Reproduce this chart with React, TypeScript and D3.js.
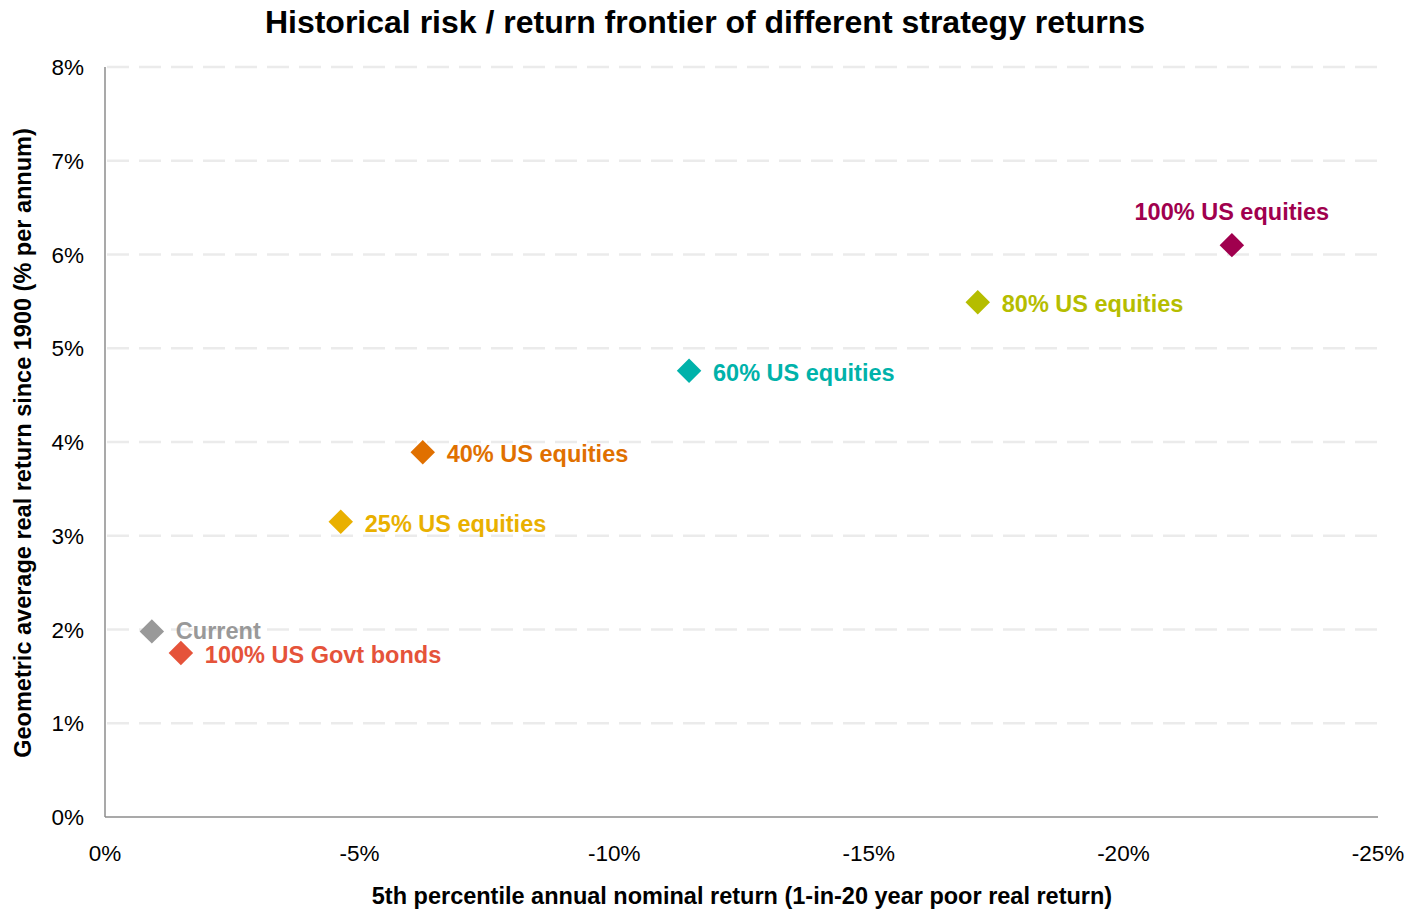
import React from "react";
import * as d3 from "d3";

const labels = ["Current", "100% US Govt bonds", "25% US equities", "40% US equities", "60% US equities", "80% US equities", "100% US equities"];
const xValues = [-0.92, -1.49, -4.63, -6.24, -11.47, -17.14, -22.13];
const yValues = [1.98, 1.75, 3.15, 3.89, 4.76, 5.49, 6.10];
const colors = ["#999999", "#E5533A", "#E9B000", "#E07000", "#00B2AA", "#B5BD00", "#A0004E"];
const labelPos = ["right", "right", "right", "right", "right", "right", "above"];
const xTicks = [0, -5, -10, -15, -20, -25];
const yTicks = [0, 1, 2, 3, 4, 5, 6, 7, 8];

const W = 1416, H = 912;
const left = 105, right = 1378, top = 67, bottom = 817;

export default function App() {
  const x = d3.scaleLinear().domain([0, -25]).range([left, right]);
  const y = d3.scaleLinear().domain([0, 8]).range([bottom, top]);
  const font = "'Liberation Sans', Arial, sans-serif";
  const diamond = d3.symbol().type(d3.symbolSquare).size(300)();
  return (
    <svg width={W} height={H} style={{ position: "absolute", left: 0, top: 0 }} fontFamily={font}>
      <rect width={W} height={H} fill="#fff" />
      <text x={705} y={33} textAnchor="middle" fontSize={32} fontWeight="bold" fill="#000">
        Historical risk / return frontier of different strategy returns
      </text>
      {yTicks.filter(t => t > 0).map(t => (
        <line key={t} x1={left + 2} x2={right + 2} y1={y(t)} y2={y(t)} stroke="#ebebeb" strokeWidth={2.5} strokeDasharray="22 10" />
      ))}
      <line x1={left} x2={left} y1={top} y2={bottom} stroke="#8c8c8c" strokeWidth={1.5} />
      <line x1={left} x2={right} y1={bottom} y2={bottom} stroke="#8c8c8c" strokeWidth={1.5} />
      {yTicks.map(t => (
        <text key={t} x={84} y={y(t) + 8} textAnchor="end" fontSize={22.5} fill="#000">{t}%</text>
      ))}
      {xTicks.map(t => (
        <text key={t} x={x(t)} y={861} textAnchor="middle" fontSize={22.5} fill="#000">{t}%</text>
      ))}
      <text x={742} y={904} textAnchor="middle" fontSize={23.5} fontWeight="bold" fill="#000">
        5th percentile annual nominal return (1-in-20 year poor real return)
      </text>
      <text transform={`translate(31,443) rotate(-90)`} textAnchor="middle" fontSize={23.5} fontWeight="bold" fill="#000">
        Geometric average real return since 1900 (% per annum)
      </text>
      {labels.map((l, i) => {
        const cx = x(xValues[i]), cy = y(yValues[i]);
        const dy = i === 0 ? 8 : 10;
        return (
          <g key={l}>
            <path d={diamond} transform={`translate(${cx},${cy}) rotate(45)`} fill={colors[i]} />
            {labelPos[i] === "above" ? (
              <text x={cx} y={cy - 25} textAnchor="middle" fontSize={23.5} fontWeight="bold" fill={colors[i]}>{l}</text>
            ) : (
              <text x={cx + 24} y={cy + dy} textAnchor="start" fontSize={23.5} fontWeight="bold" fill={colors[i]}>{l}</text>
            )}
          </g>
        );
      })}
    </svg>
  );
}
